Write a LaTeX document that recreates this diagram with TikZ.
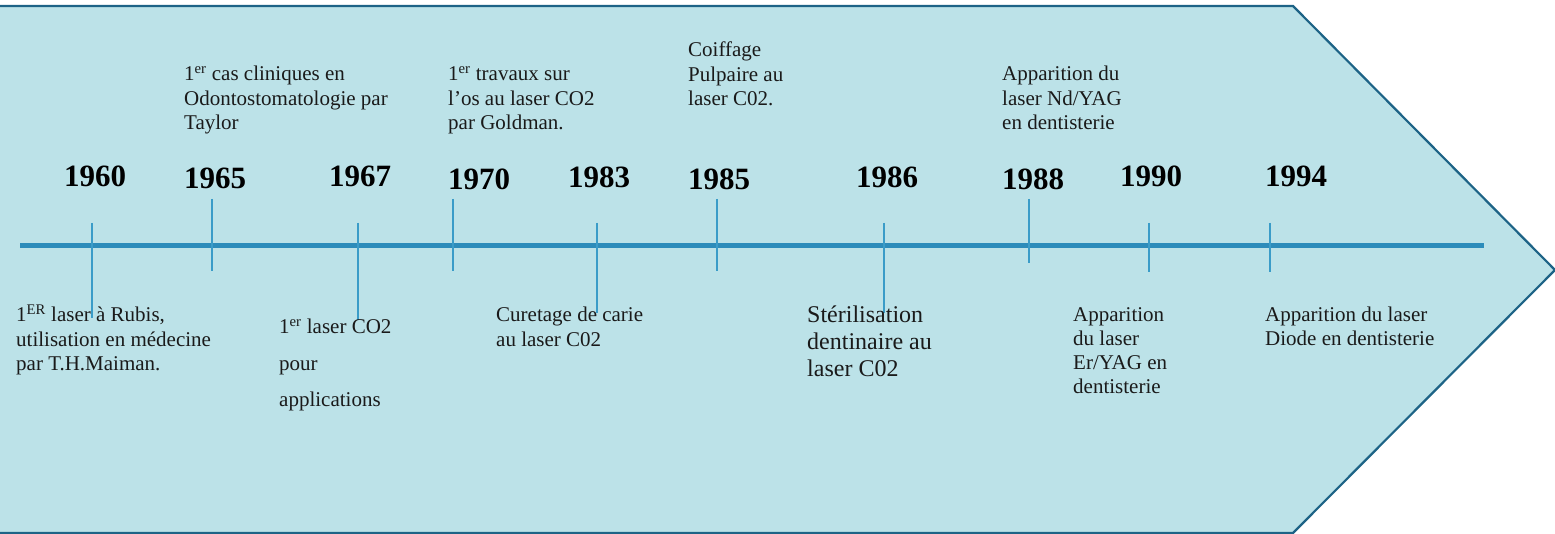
\documentclass[tikz,border=0pt]{standalone}
\usepackage{fontspec}
\setmainfont{Liberation Serif}
\definecolor{fillc}{HTML}{BCE2E8}
\definecolor{edgec}{HTML}{1D6386}
\definecolor{barc}{HTML}{2C8CBA}
\definecolor{tickc}{HTML}{3A9CC8}
\definecolor{txtc}{HTML}{1A1A1A}
\newcommand{\tblk}[1]{\begin{tabular}[t]{@{}l@{}}#1\end{tabular}}
\begin{document}
\begin{tikzpicture}[x=1pt,y=-1pt,
  body/.style={anchor=base west,inner sep=0pt,text=txtc,font=\fontsize{21}{24.5}\selectfont},
  yearlbl/.style={anchor=base west,inner sep=0pt,text=black,font=\fontsize{31}{31}\selectfont\bfseries},
  tickline/.style={draw=tickc,line width=1.5pt},
  barline/.style={draw=barc,line width=5pt},
  arrowshape/.style={fill=fillc,draw=edgec,line width=2.2pt,line join=miter}]
\useasboundingbox (0,0) rectangle (1555,534);
% arrow background
\path[arrowshape] (-10,6) -- (1293,6) -- (1555,270) -- (1293,533) -- (-10,533) -- cycle;
% timeline bar
\coordinate (barL) at (20,246);
\coordinate (barR) at (1484,246);
\draw[barline] (barL) -- (barR);
% ticks
\foreach \n/\x/\ya/\yb in {t60/92/223/318, t65/212/199/271, t67/358/223/320, t70/453/199/271,
  t83/597/223/313, t85/717/199/271, t86/884/223/313, t88/1029/199/263, t90/1149/223/272, t94/1270/223/272}{
  \coordinate (\n a) at (\x,\ya);
  \coordinate (\n b) at (\x,\yb);
  \draw[tickline] (\n a) -- (\n b);
}
% years
\node[yearlbl] (y60) at (64,187) {1960};
\node[yearlbl] (y65) at (184,189) {1965};
\node[yearlbl] (y67) at (329,187) {1967};
\node[yearlbl] (y70) at (448,190) {1970};
\node[yearlbl] (y83) at (568,188) {1983};
\node[yearlbl] (y85) at (688,190) {1985};
\node[yearlbl] (y86) at (856,188) {1986};
\node[yearlbl] (y88) at (1002,190) {1988};
\node[yearlbl] (y90) at (1120,187) {1990};
\node[yearlbl] (y94) at (1265,187) {1994};
% upper texts
\node[body] (d65) at (184,81) {\tblk{1\textsuperscript{er} cas cliniques en\\Odontostomatologie par\\Taylor}};
\node[body] (d70) at (448,81) {\tblk{1\textsuperscript{er} travaux sur\\l’os au laser CO2\\par Goldman.}};
\node[body] (d85) at (688,57) {\tblk{Coiffage\\Pulpaire au\\laser C02.}};
\node[body] (d88) at (1002,81) {\tblk{Apparition du\\laser Nd/YAG\\en dentisterie}};
% lower texts
\node[body] (d60) at (16,322) {\tblk{1\textsuperscript{ER} laser à Rubis,\\utilisation en médecine\\par T.H.Maiman.}};
\node[body,font=\fontsize{21}{36.5}\selectfont] (d67) at (279,334) {\tblk{1\textsuperscript{er} laser CO2\\pour\\applications}};
\node[body] (d83) at (496,322) {\tblk{Curetage de carie\\au laser C02}};
\node[body,font=\fontsize{24}{27}\selectfont] (d86) at (807,323) {\tblk{Stérilisation\\dentinaire au\\laser C02}};
\node[body,font=\fontsize{21}{24}\selectfont] (d90) at (1073,322) {\tblk{Apparition\\du laser\\Er/YAG en\\dentisterie}};
\node[body,font=\fontsize{21}{24}\selectfont] (d94) at (1265,322) {\tblk{Apparition du laser\\Diode en dentisterie}};
\end{tikzpicture}
\end{document}
